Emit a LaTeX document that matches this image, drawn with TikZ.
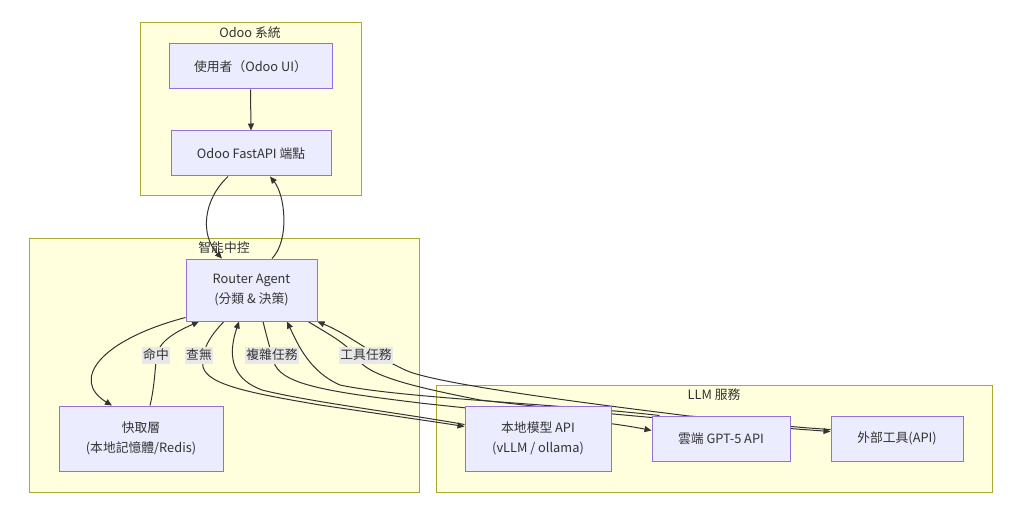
\documentclass[tikz,border=0pt]{standalone}
\usepackage{fontspec}
\setmainfont{Noto Sans CJK TC}
\usetikzlibrary{arrows.meta,calc}
\pgfdeclarelayer{bg}
\pgfdeclarelayer{edges}
\pgfsetlayers{bg,edges,main}
\definecolor{clfill}{HTML}{FFFFDE}
\definecolor{clline}{HTML}{AAAA33}
\definecolor{ndfill}{HTML}{ECECFF}
\definecolor{ndline}{HTML}{9370DB}
\definecolor{edcol}{HTML}{333333}
\definecolor{lbfill}{HTML}{E8E8E8}
\begin{document}
\begin{tikzpicture}[x=1pt,y=-1pt,
  box/.style={draw=ndline, fill=ndfill, line width=1pt, inner sep=0pt, align=center,
    font=\fontsize{12.8}{20}\selectfont, text=edcol},
  cluster/.style={draw=clline, fill=clfill, line width=1pt},
  ctitle/.style={font=\fontsize{12.8}{15}\selectfont, text=edcol, inner sep=0pt},
  edge/.style={draw=edcol, line width=1pt, -{Triangle[length=7pt,width=6pt]}},
  elabel/.style={fill=lbfill, inner xsep=1pt, inner ysep=0pt, minimum height=17pt,
    font=\fontsize{12.8}{15}\selectfont, text=edcol}]
\useasboundingbox (0,0) rectangle (1024,521);

% clusters
\begin{pgfonlayer}{bg}
\fill[white] (0,0) rectangle (1024,521);
\draw[cluster] (140,23) rectangle (361,196);
\draw[cluster] (29,238) rectangle (419,492);
\draw[cluster] (436,385) rectangle (992,492);
\end{pgfonlayer}
\node[ctitle] (t1) at (250,33) {Odoo 系統};
\node[ctitle] (t3) at (714,395) {LLM 服務};

% nodes
\node[box, minimum width=163pt, minimum height=45pt] (U) at (250.5,66.5) {使用者（Odoo UI）};
\node[box, minimum width=160pt, minimum height=45pt] (F) at (251,153.5) {Odoo FastAPI 端點};
\node[box, minimum width=131pt, minimum height=62pt] (R) at (251.5,290) {Router Agent\\(分類 \& 決策)};
\node[box, minimum width=164pt, minimum height=65pt] (C) at (141,438.5) {快取層\\(本地記憶體/Redis)};
\node[box, minimum width=146pt, minimum height=65pt] (L) at (538,438.5) {本地模型 API\\(vLLM / ollama)};
\node[box, minimum width=138pt, minimum height=45pt] (G) at (721,438.5) {雲端 GPT-5 API};
\node[box, minimum width=132pt, minimum height=45pt] (T) at (897,438.5) {外部工具(API)};

\begin{pgfonlayer}{edges}
\node[ctitle] (t2) at (224,248) {智能中控};
% U -> F
\draw[edge] (U.south) -- (F.north);
% F -> R
\draw[edge] ($(F.south)+(-23,0)$) .. controls (203,200) and (200,235) .. ($(R.north)+(-29.5,0)$);
% R -> F
\draw[edge] ($(R.north)+(20.5,0)$) .. controls (290,240) and (285,195) .. ($(F.south)+(19,0)$);
% R -> C
\draw[edge] ($(R.south west)+(0,-4)$) .. controls (100,340) and (70,380) .. ($(C.north)+(-29,0)$);
% C -> R (hit)
\draw[edge] ($(C.north)+(9,0)$) .. controls (155,385) and (155,365) .. (157,355)
   .. controls (159,340) and (180,330) .. ($(R.south)+(-52.5,0)$);
% R -> L (miss)
\draw[edge] ($(R.south)+(-27.5,0)$) .. controls (210,336) and (201,350) .. (203,367)
   .. controls (208,385) and (250,393) .. (320,405)
   .. controls (380,414) and (430,421) .. ($(L.north west)+(0,21)$);
% L -> R
\draw[edge] ($(L.north west)+(0,19)$) .. controls (400,413) and (310,402) .. (262,390)
   .. controls (235,380) and (226,360) .. ($(R.south)+(-12.5,0)$);
% R -> G (complex)
\draw[edge] ($(R.south)+(11.5,0)$) .. controls (267,338) and (271,352) .. (275,365)
   .. controls (285,385) and (330,392) .. (420,403)
   .. controls (500,412) and (600,420) .. ($(G.north west)+(0,15)$);
% G -> R
\draw[edge] ($(G.north west)+(8,0)$) .. controls (560,404) and (400,398) .. (340,385)
   .. controls (310,372) and (298,345) .. ($(R.south)+(35.5,0)$);
% R -> T (tool)
\draw[edge] ($(R.south)+(56.5,0)$) .. controls (330,335) and (350,345) .. (360,362)
   .. controls (375,378) and (420,388) .. (480,400)
   .. controls (600,414) and (700,422) .. ($(T.north west)+(0,16)$);
% T -> R
\draw[edge] ($(T.north west)+(0,14)$) .. controls (760,425) and (720,418) .. (689,416)
   .. controls (600,405) and (450,386) .. (410,372)
   .. controls (380,360) and (350,335) .. (R.south east);
% labels
\node[elabel] (lhit) at (156,355) {命中};
\node[elabel] (lmiss) at (199,355) {查無};
\node[elabel] (lcplx) at (272,355) {複雜任務};
\node[elabel] (ltool) at (366,355) {工具任務};
\end{pgfonlayer}
\end{tikzpicture}
\end{document}
